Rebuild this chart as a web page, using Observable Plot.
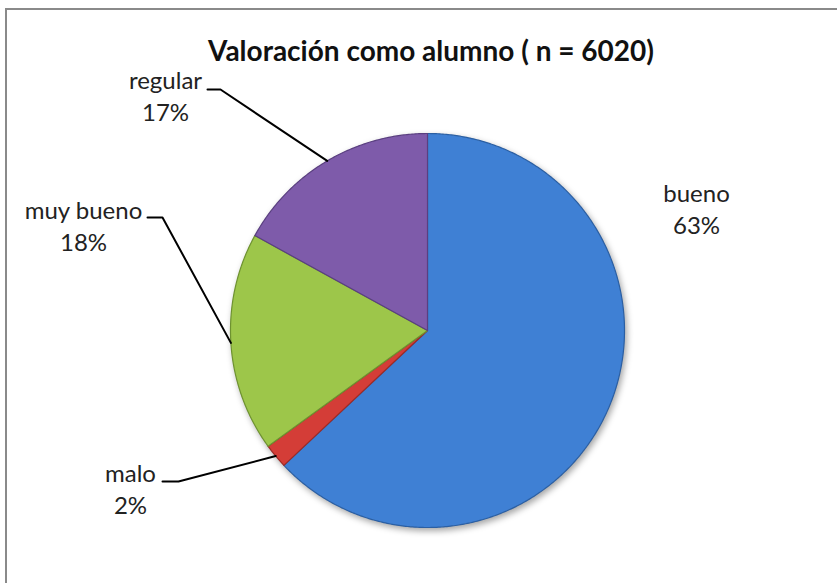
<!DOCTYPE html>
<html>
<head>
<meta charset="utf-8">
<script src="https://cdn.jsdelivr.net/npm/d3@7"></script>
<script src="https://cdn.jsdelivr.net/npm/@observablehq/plot@0.6"></script>
<style>
  html, body { margin: 0; padding: 0; background: #fff; overflow: hidden; }
  #wrap { position: relative; width: 837px; height: 583px; overflow: hidden; font-family: Lato, "Open Sans", sans-serif; }
  #frame { position: absolute; left: 5px; top: 8px; width: 900px; height: 700px; border: 2px solid #8a8a8a; box-sizing: border-box; }
  #title { position: absolute; left: 0; width: 862px; top: 34px; text-align: center; font-weight: bold; font-size: 28px; line-height: 32px; color: #111; white-space: nowrap; }
  #chart { position: absolute; left: 0; top: 0; }
</style>
</head>
<body>
<div id="wrap">
  <div id="frame"></div>
  <div id="chart"></div>
  <div id="title">Valoración como alumno ( n = 6020)</div>
</div>
<script>
// ---- data ----
const categories = ["bueno", "malo", "muy bueno", "regular"];
const percents = [63, 2, 18, 17];
const colors = ["#3F80D4", "#D43D37", "#9DC64A", "#7E5BAA"];
const strokes = ["#2B5FA3", "#9E2A26", "#6E9230", "#5A3F80"];

// ---- layout (not data) ----
const W = 837, H = 583;
const center = {x: 427, y: 330}, R = 197;
const labelLayout = {
  "bueno":     {x: 696, y: 233, lead: null},
  "malo":      {x: 130, y: 513, lead: [[162, 481], [178, 481]]},
  "muy bueno": {x: 83,  y: 250, lead: [[147, 217], [162, 217]]},
  "regular":   {x: 165, y: 120, lead: [[207, 89], [220, 89]]}
};

// ---- geometry from data ----
const total = d3.sum(percents);
let acc = 0;
const slices = categories.map((c, i) => {
  const a0 = acc / total * 2 * Math.PI;
  acc += percents[i];
  const a1 = acc / total * 2 * Math.PI;
  return {cat: c, pct: percents[i], a0, a1, mid: (a0 + a1) / 2, color: colors[i], stroke: strokes[i]};
});
const pt = (a, r) => [center.x + r * Math.sin(a), center.y - r * Math.cos(a)];

const slicePts = [];
for (const s of slices) {
  const n = Math.max(4, Math.ceil((s.a1 - s.a0) / (Math.PI / 360)));
  slicePts.push({cat: s.cat, x: center.x, y: center.y});
  for (let k = 0; k <= n; k++) {
    const [x, y] = pt(s.a0 + (s.a1 - s.a0) * k / n, R);
    slicePts.push({cat: s.cat, x, y});
  }
}

const leadPts = [];
for (const s of slices) {
  const L = labelLayout[s.cat];
  if (!L.lead) continue;
  for (const [x, y] of L.lead) leadPts.push({cat: s.cat, x, y});
  const [ex, ey] = pt(s.mid, R);
  leadPts.push({cat: s.cat, x: ex, y: ey});
}

const labels = slices.map(s => ({
  text: `${s.cat}\n${s.pct}%`,
  x: labelLayout[s.cat].x,
  y: labelLayout[s.cat].y
}));

const colorOf = Object.fromEntries(slices.map(s => [s.cat, s.color]));
const strokeOf = Object.fromEntries(slices.map(s => [s.cat, s.stroke]));

const plot = Plot.plot({
  width: W, height: H,
  margin: 0,
  x: {domain: [0, W], range: [0, W], axis: null},
  y: {domain: [0, H], range: [0, H], axis: null},
  style: {background: "transparent", overflow: "visible"},
  marks: [
    Plot.line(slicePts, {
      x: "x", y: "y", z: "cat",
      curve: "linear-closed",
      fill: d => colorOf[d.cat],
      stroke: d => strokeOf[d.cat],
      strokeWidth: 1.2,
      strokeLinejoin: "round"
    }),
    Plot.line(leadPts, {
      x: "x", y: "y", z: "cat",
      stroke: "#000", strokeWidth: 2, curve: "linear"
    }),
    Plot.text(labels, {
      x: "x", y: "y", text: "text",
      lineAnchor: "bottom", lineHeight: 1.32,
      fontSize: 24, fontFamily: "Lato, 'Open Sans', sans-serif",
      fill: "#222", textAnchor: "middle"
    })
  ]
});
const pieGroup = plot.querySelector('g[aria-label="line"]');
if (pieGroup) pieGroup.style.filter = "drop-shadow(2px 3px 3px rgba(0,0,0,0.35))";
document.getElementById("chart").appendChild(plot);
</script>
</body>
</html>
